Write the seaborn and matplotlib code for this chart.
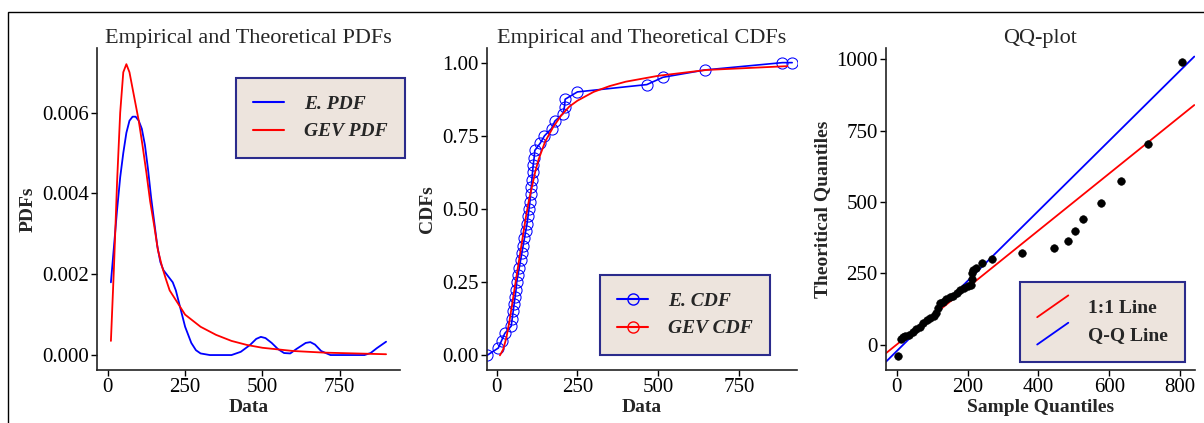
import numpy as np
import pandas as pd
import seaborn as sns
import matplotlib.pyplot as plt
from matplotlib.lines import Line2D
from matplotlib.legend_handler import HandlerBase
from matplotlib.patches import Rectangle

# PDF panel
epdf_x = [10, 20, 30, 40, 50, 60, 70, 80, 90, 100, 110, 120, 130, 140, 150, 160, 170, 180, 190,
          200, 210, 220, 230, 240, 250, 260, 270, 285, 300, 330, 400, 430, 460, 480, 495, 510, 530,
          550, 570, 590, 610, 640, 655, 670, 690, 720, 830, 850, 870, 900]
epdf_y = [0.0018, 0.0027, 0.0036, 0.0044, 0.0050, 0.0055, 0.0058, 0.0059, 0.0059, 0.0058, 0.0056,
          0.0052, 0.0046, 0.0039, 0.0033, 0.0027, 0.0023, 0.0021, 0.0020, 0.0019, 0.0018, 0.0016,
          0.0013, 0.0010, 0.0007, 0.0005, 0.0003, 0.00012, 0.00004, 0.0, 0.0, 0.00008, 0.00025,
          0.0004, 0.00045, 0.00042, 0.0003, 0.00015, 0.00005, 0.00004, 0.00015, 0.0003, 0.00032,
          0.00026, 0.0001, 0.0, 0.0, 0.00005, 0.00017, 0.00033]
gpdf_x = [10, 20, 30, 40, 50, 60, 70, 80, 90, 100, 112, 125, 137, 150, 162, 175, 187, 200, 225,
          250, 275, 300, 350, 400, 450, 500, 600, 700, 800, 900]
gpdf_y = [0.00035, 0.0022, 0.0043, 0.0060, 0.0070, 0.0072, 0.0070, 0.0066, 0.0062, 0.0058,
          0.0052, 0.0045, 0.0038, 0.0032, 0.0026, 0.0022, 0.0019, 0.0016, 0.0013, 0.0010, 0.00085,
          0.0007, 0.0005, 0.00035, 0.00025, 0.00018, 0.0001, 0.00006, 0.00004, 0.00002]

# CDF panel
ecdf_x = [-30, 5, 15, 25, 45, 48, 51, 54, 57, 60, 62, 66, 70, 74, 78, 82, 86, 90, 94, 97, 100,
          103, 105, 107, 109, 111, 113, 116, 118, 135, 148, 170, 180, 205, 210, 212, 250, 465,
          515, 645, 885, 915]
ecdf_y = [0.0, 0.025, 0.05, 0.075, 0.1, 0.125, 0.15, 0.175, 0.2, 0.225, 0.25, 0.275, 0.3, 0.325,
          0.35, 0.375, 0.4, 0.425, 0.45, 0.475, 0.5, 0.525, 0.55, 0.575, 0.6, 0.625, 0.65, 0.675,
          0.7, 0.725, 0.75, 0.775, 0.8, 0.825, 0.85, 0.875, 0.9, 0.925, 0.95, 0.975, 1.0, 1.0]
gcdf_x = [10, 20, 30, 40, 50, 60, 70, 80, 90, 100, 110, 120, 130, 150, 175, 200, 225, 250, 300,
          350, 400, 500, 650, 900]
gcdf_y = [0.0, 0.02, 0.06, 0.12, 0.19, 0.26, 0.33, 0.40, 0.47, 0.53, 0.58, 0.63, 0.67, 0.73,
          0.78, 0.82, 0.85, 0.87, 0.90, 0.92, 0.935, 0.955, 0.975, 0.988]

# QQ panel
qq_sample = [5, 12, 18, 25, 35, 45, 55, 65, 75, 85, 95, 105, 110, 118, 122, 130, 140, 150, 160,
             170, 180, 190, 200, 210, 212, 214, 216, 225, 240, 270, 355, 445, 483, 503, 525, 578,
             632, 710, 805]
qq_theory = [-40, 20, 25, 30, 35, 45, 55, 62, 75, 85, 92, 100, 110, 130, 145, 150, 160, 168, 172,
             180, 190, 200, 205, 210, 230, 250, 262, 270, 285, 300, 320, 340, 365, 398, 440, 495,
             573, 703, 990]
line_x = [-30, 840]
one_one = [-30, 840]
qq_line = [-60, 1010]

sns.set_style("ticks")
plt.rcParams["font.family"] = ["Liberation Serif", "DejaVu Serif"]
plt.rcParams["font.size"] = 14


class DiagHandler(HandlerBase):
    def create_artists(self, legend, orig, xd, yd, w, h, fontsize, trans):
        ln = Line2D([xd, xd + w], [yd - 0.3 * h, yd + 1.3 * h], color=orig.get_color(), lw=1.3)
        ln.set_transform(trans)
        return [ln]


def box_legend(ax, handles, labels, loc, anchor, handler_map=None, italic=True):
    leg = ax.legend(handles, labels, loc=loc, bbox_to_anchor=anchor, frameon=True, fancybox=False,
                    borderpad=0.9, handlelength=1.6, handletextpad=1.0, labelspacing=0.5,
                    handler_map=handler_map, borderaxespad=0,
                    prop={"weight": "bold", "style": "italic" if italic else "normal", "size": 14})
    fr = leg.get_frame()
    fr.set_facecolor("#EDE4DD")
    fr.set_edgecolor("#2B2B8C")
    fr.set_linewidth(1.5)
    fr.set_alpha(1)
    return leg


W, H = 1204, 423
fig = plt.figure(figsize=(W / 100, H / 100), dpi=100)
fig.patches.append(Rectangle((8 / W, -0.1), 1.2, 1.1 - 12 / H, transform=fig.transFigure,
                             fill=False, edgecolor="black", lw=1))


def add_ax(l, r, t=48, b=370):
    return fig.add_axes([l / W, 1 - b / H, (r - l) / W, (b - t) / H])


ax1 = add_ax(97, 400)
ax2 = add_ax(487, 797)
ax3 = add_ax(886, 1195)

# PDFs
sns.lineplot(x=epdf_x, y=epdf_y, ax=ax1, color="blue", lw=1.3)
sns.lineplot(x=gpdf_x, y=gpdf_y, ax=ax1, color="red", lw=1.3)
ax1.set_xlim(-35, 945)
ax1.set_ylim(-0.00037, 0.0076)
ax1.set_xticks([0, 250, 500, 750])
ax1.set_yticks([0, 0.002, 0.004, 0.006])
ax1.set_yticklabels(["0.000", "0.002", "0.004", "0.006"])
ax1.set_title("Empirical and Theoretical PDFs", fontsize=16, pad=0)
ax1.set_xlabel("Data", fontweight="bold", labelpad=1)
ax1.set_ylabel("PDFs", fontweight="bold")
box_legend(ax1, [Line2D([], [], color="blue"), Line2D([], [], color="red")],
           ["E. PDF", "GEV PDF"], "upper right", (1.016, 0.907))

# CDFs
sns.lineplot(x=ecdf_x, y=ecdf_y, ax=ax2, color="blue", lw=1.2, marker="o", markersize=8,
             markerfacecolor="none", markeredgecolor="blue")
sns.lineplot(x=gcdf_x, y=gcdf_y, ax=ax2, color="red", lw=1.3)
ax2.set_xlim(-30, 930)
ax2.set_ylim(-0.05, 1.05)
ax2.set_xticks([0, 250, 500, 750])
ax2.set_yticks([0, 0.25, 0.5, 0.75, 1.0])
ax2.set_yticklabels(["0.00", "0.25", "0.50", "0.75", "1.00"])
ax2.set_title("Empirical and Theoretical CDFs", fontsize=16, pad=0)
ax2.set_xlabel("Data", fontweight="bold", labelpad=1)
ax2.set_ylabel("CDFs", fontweight="bold")
box_legend(ax2, [Line2D([], [], color="blue", marker="o", mfc="none", ms=8),
                 Line2D([], [], color="red", marker="o", mfc="none", ms=8)],
           ["E. CDF", "GEV CDF"], "lower right", (0.913, 0.047))

# QQ
sns.lineplot(x=line_x, y=one_one, ax=ax3, color="red", lw=1.3)
sns.lineplot(x=line_x, y=qq_line, ax=ax3, color="blue", lw=1.3)
sns.scatterplot(x=qq_sample, y=qq_theory, ax=ax3, color="black", s=30, edgecolor="black", zorder=3)
ax3.set_xlim(-30, 842)
ax3.set_ylim(-89, 1040)
ax3.set_xticks([0, 200, 400, 600, 800])
ax3.set_yticks([0, 250, 500, 750, 1000])
ax3.set_title("QQ-plot", fontsize=16, pad=0)
ax3.set_xlabel("Sample Quantiles", fontweight="bold", labelpad=1)
ax3.set_ylabel("Theoritical Quantiles", fontweight="bold")
box_legend(ax3, [Line2D([], [], color="red"), Line2D([], [], color="blue")],
           ["1:1 Line", "Q-Q Line"], "lower right", (0.968, 0.025),
           handler_map={Line2D: DiagHandler()}, italic=False)

for ax in (ax1, ax2, ax3):
    sns.despine(ax=ax)
    ax.tick_params(labelsize=15, length=4, width=1, colors="black", pad=2)
    for sp in ax.spines.values():
        sp.set_linewidth(1.2)
        sp.set_color("#222222")

fig.savefig("out.png", dpi=100)
